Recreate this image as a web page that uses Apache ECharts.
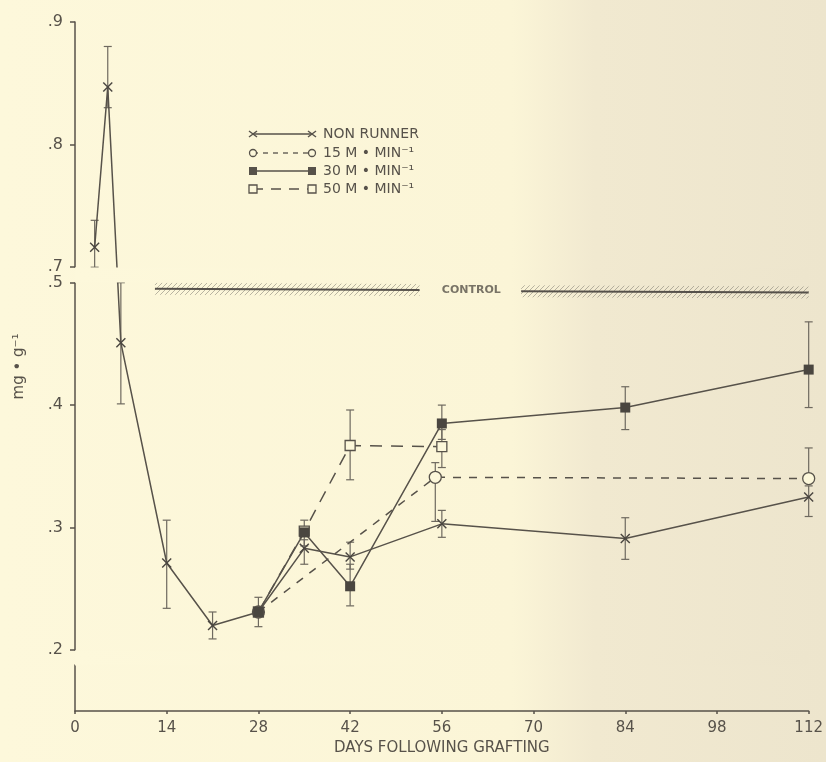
<!DOCTYPE html>
<html>
<head>
<meta charset="utf-8">
<script src="https://cdn.jsdelivr.net/npm/echarts@6.0.0/dist/echarts.min.js"></script>
<style>
  html, body { margin: 0; padding: 0; background: #fcf7da; }
  #chart { width: 826px; height: 762px; }
</style>
</head>
<body>
<div id="chart"></div>
<script>
// tick labels
const xTicks = [0, 14, 28, 42, 56, 70, 84, 98, 112];
const yTicks = [0.2, 0.3, 0.4, 0.5, 0.7, 0.8, 0.9];

// non runner
const nrDays = [3, 5, 7, 14, 21, 28, 35, 42, 56, 84, 112];
const nrMean = [0.716, 0.847, 0.451, 0.271, 0.220, 0.231, 0.283, 0.276, 0.303, 0.291, 0.325];
const nrLow  = [0.695, 0.830, 0.401, 0.234, 0.209, 0.219, 0.270, 0.266, 0.292, 0.274, 0.309];
const nrHigh = [0.738, 0.880, 0.500, 0.306, 0.231, 0.243, 0.290, 0.288, 0.314, 0.308, 0.334];

// 15 m/min
const r15Days = [28, 55, 112];
const r15Mean = [0.231, 0.341, 0.340];
const r15Low  = [null, 0.305, 0.340];
const r15High = [null, 0.353, 0.365];

// 30 m/min
const r30Days = [28, 35, 42, 56, 84, 112];
const r30Mean = [0.231, 0.296, 0.252, 0.385, 0.398, 0.429];
const r30Low  = [null, 0.285, 0.236, 0.372, 0.380, 0.398];
const r30High = [null, 0.306, 0.270, 0.400, 0.415, 0.468];

// 50 m/min
const r50Days = [28, 35, 42, 56];
const r50Mean = [0.231, 0.297, 0.367, 0.366];
const r50Low  = [null, null, 0.339, 0.349];
const r50High = [null, null, 0.396, 0.380];

// control band
const controlLeft = [[12.2, 0.495], [52.6, 0.494]];
const controlRight = [[68.1, 0.493], [112, 0.492]];
const controlLabel = [[60.5, 0.494]];

const ink = '#57524a';
const paper = '#fcf7da';
const xMark = 'path://M0,1L1,0L5,4L9,0L10,1L6,5L10,9L9,10L5,6L1,10L0,9L4,5Z';

function zip(a, b) { return a.map((d, i) => [d, b[i]]); }

function errorBars(name, days, low, high) {
  const data = [];
  days.forEach((d, i) => { if (low[i] != null) data.push([d, low[i], high[i]]); });
  return {
    type: 'custom',
    name: name + ' err',
    silent: true,
    z: 1,
    encode: { x: 0, y: [1, 2] },
    renderItem(params, api) {
      const lo = api.coord([api.value(0), api.value(1)]);
      const hi = api.coord([api.value(0), api.value(2)]);
      const s = { stroke: '#6e695f', lineWidth: 1.2 };
      return {
        type: 'group',
        children: [
          { type: 'line', shape: { x1: lo[0], y1: lo[1], x2: hi[0], y2: hi[1] }, style: s },
          { type: 'line', shape: { x1: lo[0] - 4, y1: lo[1], x2: lo[0] + 4, y2: lo[1] }, style: s },
          { type: 'line', shape: { x1: hi[0] - 4, y1: hi[1], x2: hi[0] + 4, y2: hi[1] }, style: s }
        ]
      };
    },
    data
  };
}

// diagonal hatch for the control band
const hatch = document.createElement('canvas');
hatch.width = 5; hatch.height = 5;
const hc = hatch.getContext('2d');
hc.strokeStyle = 'rgba(130,125,115,0.55)';
hc.lineWidth = 1;
hc.beginPath(); hc.moveTo(0, 5); hc.lineTo(5, 0); hc.stroke();

const bgStops = [
  { offset: 0, color: '#fdf8db' },
  { offset: 0.62, color: '#fbf5d7' },
  { offset: 0.72, color: '#f1e9d0' },
  { offset: 1, color: '#ede5cd' }
];
const breakStops = bgStops.map(s => ({
  offset: Math.min(1, Math.max(0, (s.offset * 826 - 75) / 735)),
  color: s.color
}));

const chart = echarts.init(document.getElementById('chart'));

function legendRow(y, symbol, dash, text) {
  const kids = [
    { type: 'line', shape: { x1: 253, y1: y, x2: 312, y2: y },
      style: { stroke: ink, lineWidth: 1.3, lineDash: dash } }
  ];
  [253, 312].forEach(x => {
    if (symbol === 'x') {
      kids.push({ type: 'line', shape: { x1: x - 4, y1: y - 3, x2: x + 4, y2: y + 3 },
        style: { stroke: ink, lineWidth: 1.4 } });
      kids.push({ type: 'line', shape: { x1: x - 4, y1: y + 3, x2: x + 4, y2: y - 3 },
        style: { stroke: ink, lineWidth: 1.4 } });
    } else if (symbol === 'o') {
      kids.push({ type: 'circle', shape: { cx: x, cy: y, r: 3.5 },
        style: { stroke: ink, lineWidth: 1.3, fill: paper } });
    } else if (symbol === 'sf') {
      kids.push({ type: 'rect', shape: { x: x - 4, y: y - 4, width: 8, height: 8 },
        style: { fill: ink } });
    } else {
      kids.push({ type: 'rect', shape: { x: x - 4, y: y - 4, width: 8, height: 8 },
        style: { stroke: ink, lineWidth: 1.3, fill: paper } });
    }
  });
  kids.push({ type: 'text', x: 323, y: y,
    style: { text: text, fill: ink, font: '14px "DejaVu Sans"', verticalAlign: 'middle' } });
  return kids;
}

const option = {
  backgroundColor: new echarts.graphic.LinearGradient(0, 0, 1, 0, bgStops),
  animation: false,
  grid: { left: 75, right: 16, top: 22, bottom: 51 },
  xAxis: {
    type: 'value',
    min: 0,
    max: 112,
    interval: 14,
    name: 'DAYS FOLLOWING GRAFTING',
    nameLocation: 'middle',
    nameGap: 28,
    nameTextStyle: { color: ink, fontSize: 15, fontFamily: 'DejaVu Sans' },
    splitLine: { show: false },
    axisLine: { lineStyle: { color: ink, width: 1.5 } },
    axisTick: { length: 3, lineStyle: { color: ink, width: 1.5 } },
    axisLabel: { color: ink, fontSize: 15, fontFamily: 'DejaVu Sans', margin: 10,
      customValues: xTicks }
  },
  yAxis: {
    type: 'value',
    min: 0,
    max: 0.9,
    name: 'mg • g⁻¹',
    nameLocation: 'middle',
    nameRotate: 90,
    nameGap: 48,
    nameTextStyle: { color: ink, fontSize: 15, fontFamily: 'DejaVu Sans' },
    breaks: [
      { start: 0.0375, end: 0.2, gap: '2.2%' },
      { start: 0.5, end: 0.7, gap: '2.3%' }
    ],
    breakArea: {
      show: true,
      expandOnClick: false,
      zigzagAmplitude: 0,
      zigzagZ: 200,
      itemStyle: {
        color: new echarts.graphic.LinearGradient(0, 0, 1, 0, breakStops),
        borderColor: 'rgba(0,0,0,0)',
        borderWidth: 0,
        opacity: 1
      }
    },
    splitLine: { show: false },
    axisLine: { show: true, lineStyle: { color: ink, width: 1.5 } },
    axisTick: { show: true, length: 5, customValues: yTicks, lineStyle: { color: ink, width: 1.5 } },
    axisLabel: {
      color: ink, fontSize: 16, fontFamily: 'DejaVu Sans', margin: 12,
      customValues: yTicks,
      formatter: v => '.' + Math.round(v * 10)
    }
  },
  graphic: [
    { type: 'group', children: [].concat(
      legendRow(134, 'x', null, 'NON RUNNER'),
      legendRow(153, 'o', [5, 5], '15 M • MIN⁻¹'),
      legendRow(171, 'sf', null, '30 M • MIN⁻¹'),
      legendRow(189, 'so', [10, 8], '50 M • MIN⁻¹')
    ) }
  ],
  series: [
    { type: 'line', name: 'control band', data: controlLeft, symbol: 'none', silent: true,
      lineStyle: { width: 12, color: { image: hatch, repeat: 'repeat' } }, z: 1 },
    { type: 'line', name: 'control band', data: controlRight, symbol: 'none', silent: true,
      lineStyle: { width: 12, color: { image: hatch, repeat: 'repeat' } }, z: 1 },
    { type: 'line', name: 'control', data: controlLeft, symbol: 'none', silent: true,
      lineStyle: { width: 2, color: '#55504a' }, z: 2 },
    { type: 'line', name: 'control', data: controlRight, symbol: 'none', silent: true,
      lineStyle: { width: 2, color: '#55504a' }, z: 2 },
    { type: 'scatter', name: 'control label', data: controlLabel, symbolSize: 0, silent: true,
      label: { show: true, position: 'inside', formatter: 'CONTROL', color: ink,
        fontSize: 11, fontWeight: 'bold', fontFamily: 'DejaVu Sans' } },

    errorBars('NON RUNNER', nrDays, nrLow, nrHigh),
    errorBars('15', r15Days, r15Low, r15High),
    errorBars('30', r30Days, r30Low, r30High),
    errorBars('50', r50Days, r50Low, r50High),

    { type: 'line', name: '15 M • MIN⁻¹', data: zip(r15Days, r15Mean), z: 3,
      symbol: 'circle', symbolSize: 12, showAllSymbol: true,
      itemStyle: { color: paper, borderColor: ink, borderWidth: 1.3 },
      lineStyle: { color: ink, width: 1.5, type: [8, 8] } },
    { type: 'line', name: '50 M • MIN⁻¹', data: zip(r50Days, r50Mean), z: 3,
      symbol: 'rect', symbolSize: 10,
      itemStyle: { color: paper, borderColor: ink, borderWidth: 1.3 },
      lineStyle: { color: ink, width: 1.5, type: [12, 9] } },
    { type: 'line', name: '30 M • MIN⁻¹', data: zip(r30Days, r30Mean), z: 4,
      symbol: 'rect', symbolSize: 10,
      itemStyle: { color: '#4a4640' },
      lineStyle: { color: ink, width: 1.5 } },
    { type: 'line', name: 'NON RUNNER', data: zip(nrDays, nrMean), z: 4,
      symbol: xMark, symbolSize: 10,
      itemStyle: { color: '#4a4640' },
      lineStyle: { color: ink, width: 1.5 } }
  ]
};

chart.setOption(option);
</script>
</body>
</html>
